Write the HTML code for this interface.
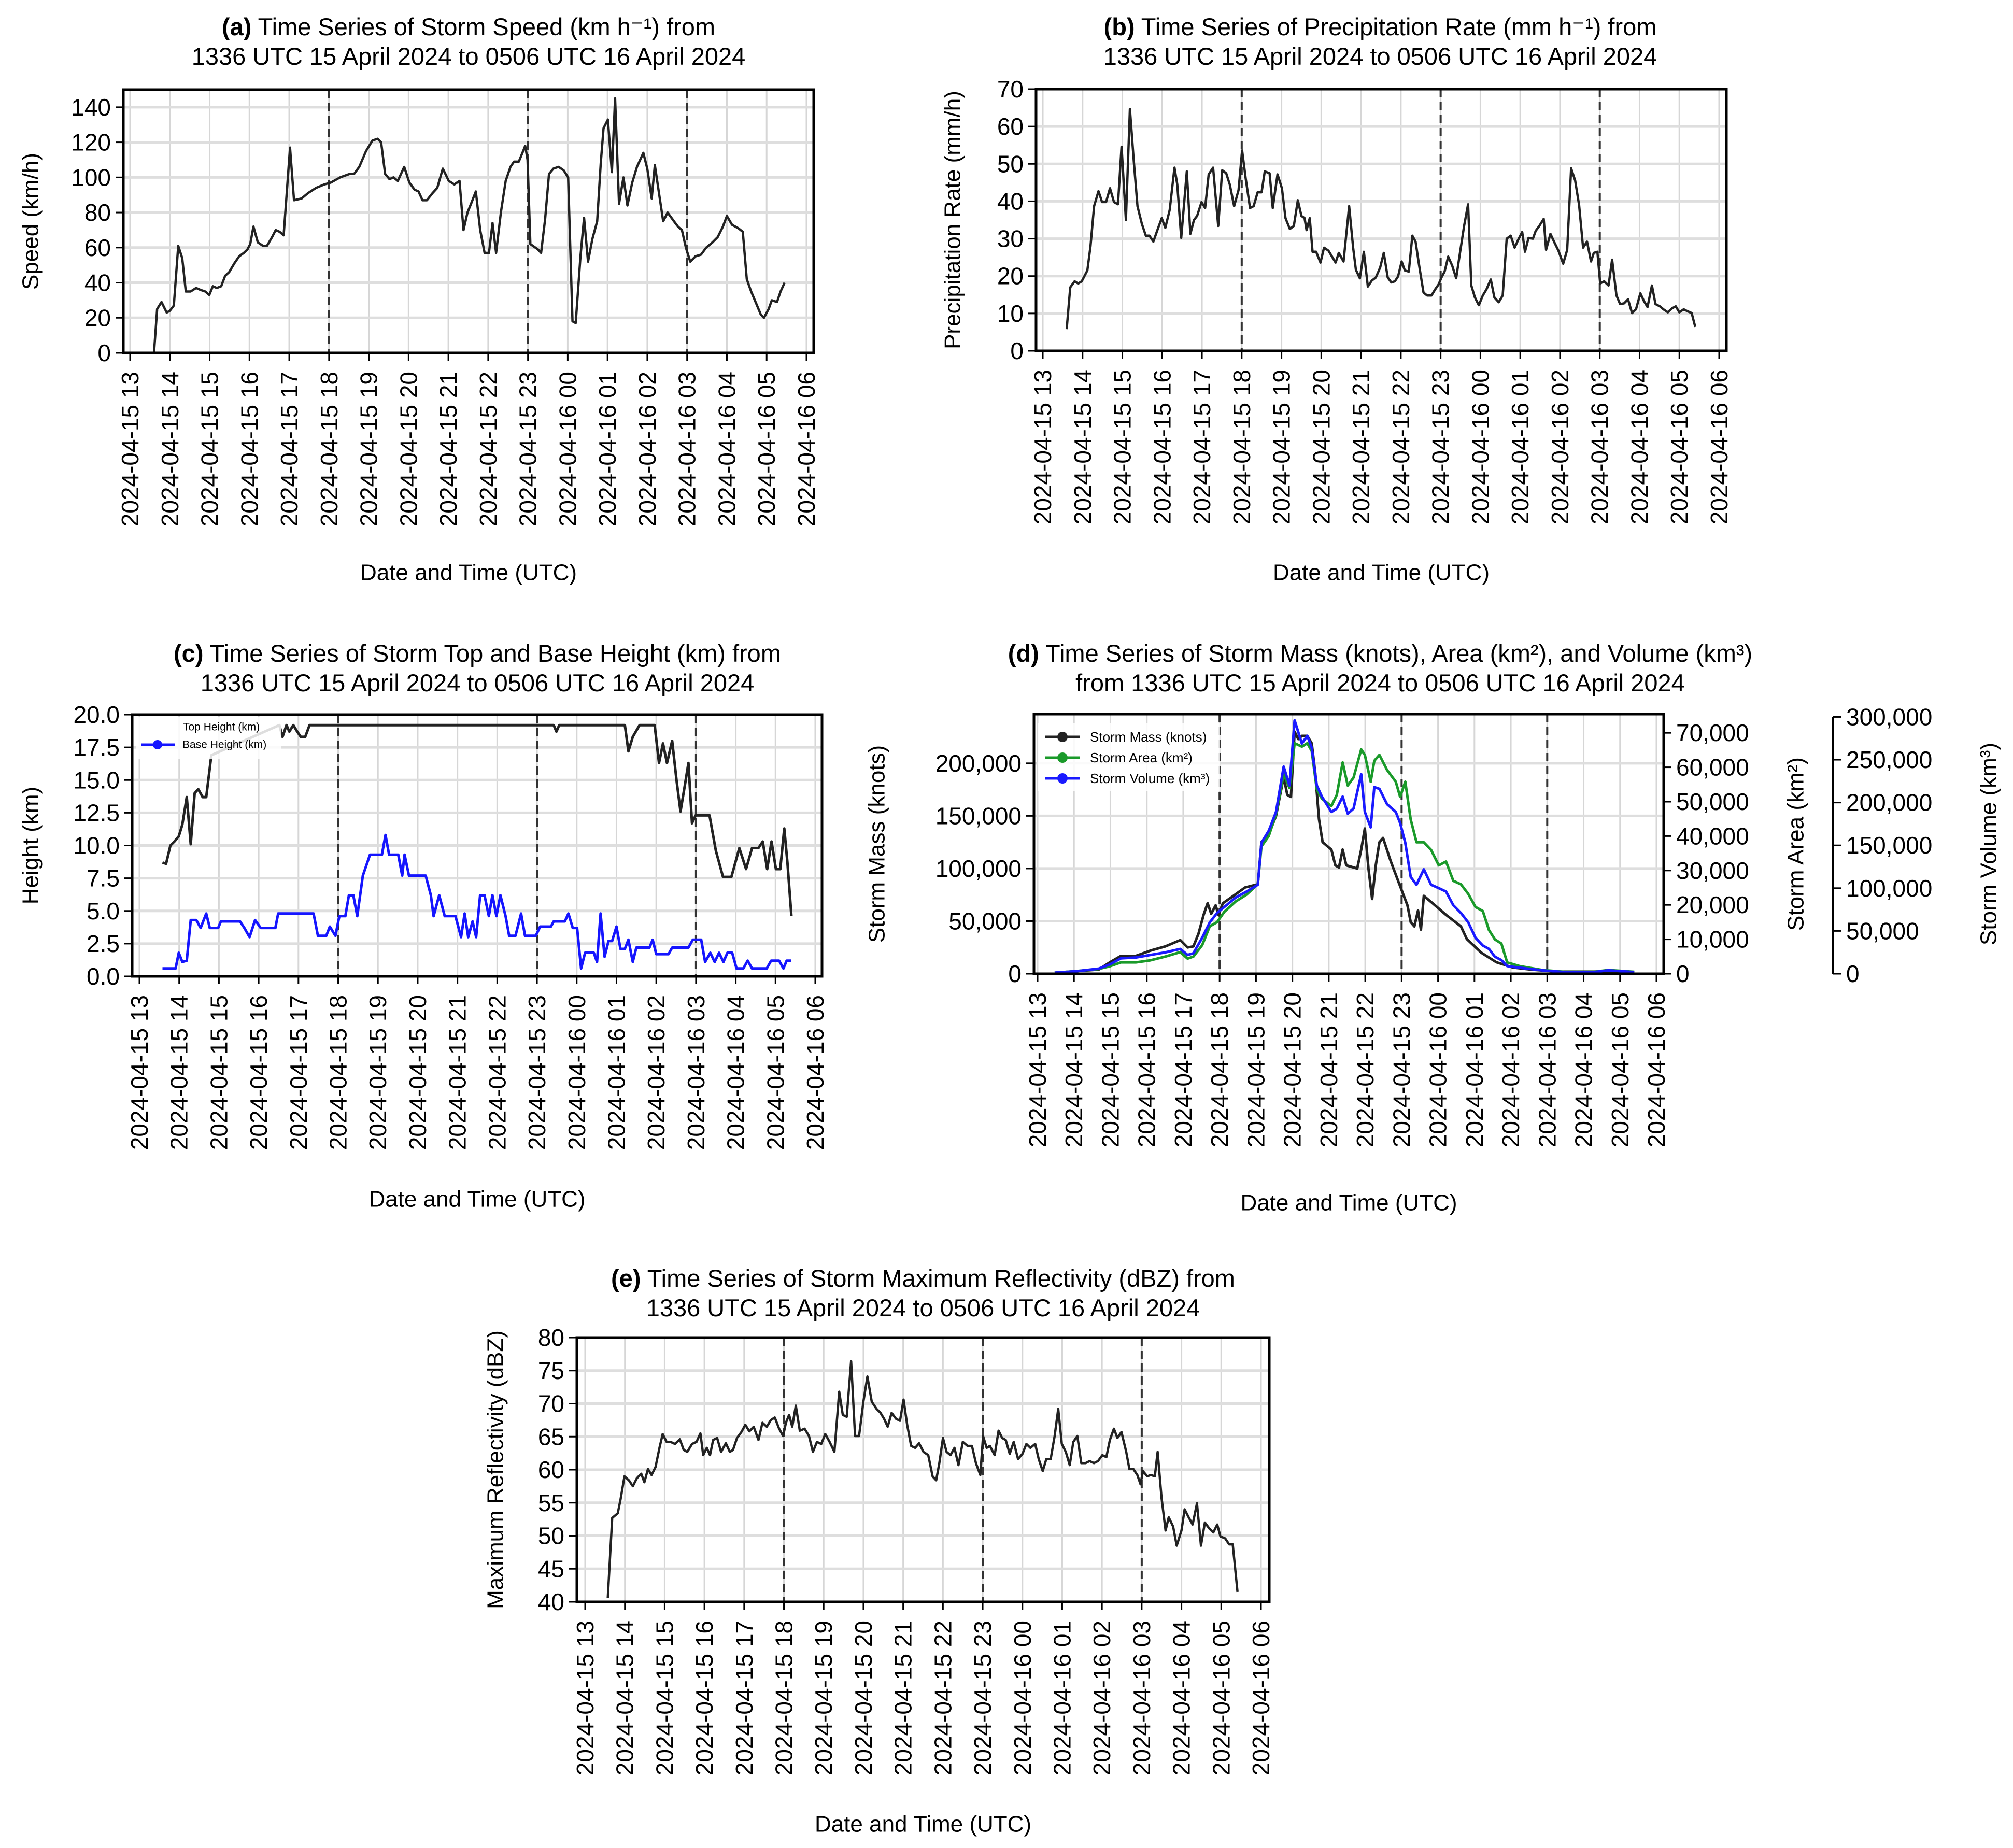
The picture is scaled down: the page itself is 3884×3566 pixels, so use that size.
<!DOCTYPE html>
<html><head><meta charset="utf-8">
<style>
html,body{margin:0;padding:0;background:#fff;}
svg{display:block;font-family:"Liberation Sans",sans-serif;}
</style></head>
<body>
<svg id="fig" width="3884" height="3566" viewBox="0 0 3884 3566" xmlns="http://www.w3.org/2000/svg">
<rect x="0" y="0" width="3884" height="3566" fill="#fff"/>
</svg>
<script>
// ---------- shared tick data ----------
const hourTickLabels = ["2024-04-15 13","2024-04-15 14","2024-04-15 15","2024-04-15 16","2024-04-15 17","2024-04-15 18","2024-04-15 19","2024-04-15 20","2024-04-15 21","2024-04-15 22","2024-04-15 23","2024-04-16 00","2024-04-16 01","2024-04-16 02","2024-04-16 03","2024-04-16 04","2024-04-16 05","2024-04-16 06"];
const dashedHours = [5, 10, 14]; // hours after 13 UTC: 18, 23, 03 UTC

// ---------- (a) speed ----------
const speedTimes = [0.60,0.68,0.79,0.92,1.00,1.10,1.21,1.31,1.40,1.52,1.66,1.76,1.89,1.99,2.08,2.18,2.29,2.39,2.49,2.62,2.74,2.86,2.95,3.02,3.10,3.21,3.34,3.44,3.57,3.66,3.76,3.86,4.02,4.12,4.31,4.47,4.67,4.88,5.04,5.28,5.52,5.63,5.76,5.93,6.09,6.22,6.31,6.41,6.52,6.62,6.73,6.89,7.02,7.15,7.25,7.35,7.46,7.60,7.72,7.86,8.01,8.15,8.28,8.38,8.48,8.57,8.69,8.80,8.91,9.02,9.11,9.20,9.32,9.44,9.56,9.65,9.77,9.88,9.93,9.99,10.06,10.25,10.33,10.43,10.53,10.64,10.77,10.90,11.01,11.12,11.20,11.32,11.41,11.51,11.62,11.74,11.83,11.90,12.01,12.11,12.19,12.29,12.40,12.50,12.62,12.74,12.90,13.00,13.11,13.19,13.30,13.40,13.51,13.67,13.77,13.87,13.97,14.08,14.21,14.35,14.48,14.64,14.77,14.90,15.00,15.13,15.29,15.40,15.50,15.61,15.74,15.85,15.93,16.05,16.13,16.26,16.35,16.45];
const speedValues = [0,25,29,23,24,27,61,54,35,35,37,36,35,33,38,37,38,44,46,51,55,57,59,62,72,63,61,61,66,70,69,67,117,87,88,91,94,96,97,100,102,102,106,115,121,122,120,102,99,100,98,106,97,93,92,87,87,91,94,105,98,96,98,70,80,85,92,70,57,57,74,57,80,98,106,109,109,115,118,110,62,59,57,76,102,105,106,104,100,18,17,55,77,52,65,75,108,128,133,103,145,85,100,84,97,106,114,105,88,107,90,75,80,75,72,70,60,52,55,56,60,63,66,72,78,73,71,69,42,35,28,22,20,25,30,29,35,40];
const speedTicks = [0,20,40,60,80,100,120,140];

// ---------- (b) precipitation ----------
const precipTimes = [0.60,0.69,0.80,0.89,0.98,1.12,1.20,1.29,1.40,1.49,1.59,1.69,1.79,1.89,1.98,2.09,2.19,2.29,2.38,2.49,2.59,2.68,2.78,2.88,2.99,3.08,3.19,3.31,3.38,3.48,3.62,3.71,3.80,3.88,3.99,4.08,4.17,4.28,4.41,4.51,4.61,4.70,4.81,4.92,5.01,5.10,5.21,5.30,5.40,5.50,5.58,5.70,5.78,5.90,6.01,6.10,6.21,6.31,6.41,6.50,6.58,6.63,6.71,6.78,6.87,6.98,7.07,7.18,7.27,7.36,7.44,7.56,7.70,7.80,7.87,7.97,8.07,8.17,8.27,8.37,8.48,8.57,8.67,8.76,8.85,8.93,9.02,9.10,9.20,9.29,9.37,9.46,9.57,9.66,9.77,9.86,9.95,10.02,10.10,10.19,10.29,10.39,10.49,10.59,10.69,10.77,10.86,10.96,11.06,11.15,11.26,11.35,11.46,11.56,11.66,11.76,11.86,11.95,12.05,12.12,12.21,12.32,12.39,12.48,12.59,12.65,12.76,12.85,12.96,13.08,13.18,13.28,13.38,13.48,13.58,13.68,13.78,13.85,13.94,14.01,14.11,14.22,14.31,14.42,14.51,14.61,14.71,14.81,14.91,15.02,15.11,15.20,15.31,15.40,15.51,15.60,15.71,15.82,15.91,16.00,16.11,16.20,16.31,16.40];
const precipValues = [5.8,17,18.6,18,18.6,21.5,28,38.7,42.7,39.8,39.8,43.5,39.8,39.2,54.6,35,64.7,50.4,38.7,34,30.8,30.8,29.2,32.3,35.5,32.9,37.7,49,44.5,30.2,48,31.3,35,36.1,39.8,38.2,47.2,49,33.4,48.3,47.5,44.5,38.7,43,53.6,46.1,38.2,38.7,42.4,42.4,48,47.5,38.2,47.2,43.5,35.5,32.6,33.4,40.3,36.1,35.5,32.3,35.5,26.5,26.5,23.6,27.6,26.8,25.2,23.6,26.2,23.9,38.7,27.6,21.7,19.4,26.5,17.2,18.8,19.6,22.3,26.2,19.6,18.3,18.6,19.9,23.9,21.5,21.2,30.8,29.2,22.8,15.6,14.8,14.8,16.4,17.8,19.6,21.2,25.2,22.8,19.4,26.5,33.4,39.2,17.5,14.3,12.2,14.8,16.4,19.1,14.3,13,14.8,30,30.8,27.6,29.7,31.8,26.5,30.2,30,32.1,33.4,35.3,27,31.3,29.2,26.8,23.3,27,48.8,45.6,39,27.6,29.2,23.9,26.2,26.5,18,18.6,17.5,24.4,14.8,12.5,12.7,13.8,10.1,11.1,15.4,13.3,11.7,17.5,12.5,11.9,11.1,10.3,11.4,11.9,10.3,11.1,10.6,10.1,6.4];
const precipTicks = [0,10,20,30,40,50,60,70];

// ---------- (c) heights ----------
const topTimes = [0.58,0.67,0.78,0.88,0.99,1.08,1.19,1.29,1.39,1.48,1.59,1.68,1.81,3.52,3.60,3.70,3.77,3.87,3.97,4.06,4.17,4.28,6.00,8.00,10.00,10.42,10.49,10.56,12.21,12.30,12.41,12.58,12.96,13.07,13.17,13.27,13.40,13.51,13.61,13.72,13.81,13.90,13.99,14.34,14.50,14.68,14.89,15.09,15.26,15.41,15.57,15.68,15.79,15.90,16.01,16.12,16.22,16.30,16.40];
const topValues = [8.7,8.6,10.0,10.3,10.7,11.6,13.7,10.1,14.0,14.3,13.7,13.7,16.9,19.2,18.3,19.2,18.7,19.2,18.7,18.3,18.3,19.2,19.2,19.2,19.2,19.2,18.7,19.2,19.2,17.2,18.3,19.2,19.2,16.3,17.8,16.3,18.0,15.0,12.6,14.6,16.3,11.7,12.3,12.3,9.6,7.6,7.6,9.8,8.2,9.8,9.8,10.3,8.2,10.3,8.2,8.2,11.3,8.7,4.6];
const baseTimes = [0.58,0.91,0.99,1.08,1.19,1.29,1.43,1.54,1.68,1.77,1.98,2.05,2.53,2.64,2.77,2.91,3.05,3.42,3.49,4.38,4.49,4.70,4.79,4.93,5.03,5.18,5.27,5.38,5.48,5.62,5.80,6.10,6.19,6.28,6.51,6.61,6.67,6.78,7.20,7.33,7.40,7.54,7.68,7.95,8.09,8.18,8.27,8.38,8.47,8.57,8.68,8.79,8.88,8.98,9.08,9.21,9.30,9.46,9.60,9.70,9.97,10.08,10.35,10.42,10.70,10.79,10.90,11.01,11.11,11.21,11.43,11.51,11.60,11.70,11.80,11.89,12.00,12.10,12.21,12.30,12.41,12.50,12.83,12.91,13.00,13.31,13.40,13.81,13.92,14.13,14.23,14.36,14.47,14.58,14.69,14.79,14.91,15.02,15.19,15.30,15.41,15.78,15.89,16.09,16.20,16.28,16.40];
const baseValues = [0.6,0.6,1.8,1.1,1.2,4.3,4.3,3.7,4.8,3.7,3.7,4.2,4.2,3.7,3.0,4.3,3.7,3.7,4.8,4.8,3.1,3.1,3.8,3.1,4.6,4.6,6.2,6.2,4.6,7.7,9.3,9.3,10.8,9.3,9.3,7.7,9.3,7.7,7.7,6.2,4.6,6.2,4.6,4.6,3.0,4.8,3.0,4.2,3.0,6.2,6.2,4.6,6.2,4.6,6.2,4.6,3.1,3.1,4.8,3.1,3.1,3.8,3.8,4.2,4.2,4.8,3.7,3.7,0.6,1.8,1.8,1.1,4.8,1.5,2.7,2.7,3.8,2.1,2.1,2.8,1.1,2.2,2.2,2.8,1.7,1.7,2.2,2.2,2.8,2.8,1.1,1.8,1.1,1.8,1.1,1.8,1.8,0.6,0.6,1.2,0.6,0.6,1.2,1.2,0.6,1.2,1.2];
const heightTicks = [0,2.5,5,7.5,10,12.5,15,17.5,20];

// ---------- (d) mass / area / volume ----------
const massTimes = [0.47,1.08,1.68,1.99,2.29,2.70,3.10,3.51,3.92,4.12,4.28,4.42,4.56,4.67,4.77,4.89,4.97,5.09,5.38,5.70,6.05,6.15,6.35,6.55,6.76,6.86,6.96,7.06,7.16,7.26,7.41,7.53,7.63,7.73,7.83,8.07,8.18,8.28,8.38,8.48,8.68,8.78,8.89,8.99,9.09,9.19,9.29,9.39,9.49,9.70,9.94,10.16,10.25,10.35,10.45,10.53,10.61,10.85,11.22,11.63,11.79,12.19,12.60,13.05,13.55,14.26,15.28,15.68,16.39];
const massValues = [1000,2500,4000,11000,17000,17000,22000,26000,32000,25000,26000,38000,56000,67000,57000,65000,56000,67000,74000,82000,85000,125000,132000,150000,187000,170000,168000,230000,223000,226000,226000,219000,190000,147000,125000,118000,103000,101000,118000,103000,101000,100000,118000,138000,100000,71000,103000,125000,129000,107000,85000,65000,49000,45000,60000,42000,74000,67000,56000,45000,33000,20000,11000,6000,4000,2000,2000,2500,1000];
const areaTimes = [0.47,1.08,1.68,1.99,2.29,2.70,3.10,3.51,3.92,4.12,4.28,4.52,4.73,4.93,5.13,5.44,5.74,6.05,6.15,6.35,6.55,6.76,6.92,7.06,7.26,7.41,7.53,7.67,7.81,8.07,8.22,8.38,8.52,8.68,8.89,8.99,9.15,9.25,9.39,9.60,9.84,9.96,10.10,10.25,10.41,10.61,10.81,11.02,11.22,11.42,11.63,11.83,12.03,12.23,12.40,12.56,12.74,12.90,13.25,13.86,14.47,15.28,15.68,16.39];
const areaValues = [300,800,1400,2200,3300,3300,3900,5000,6300,4400,5000,8300,13800,15000,18000,21000,23000,26000,37000,40000,46400,58000,54000,67000,66000,67000,64700,53600,50900,48700,52000,61400,54700,57000,65200,63600,55800,61900,63600,59200,55800,51400,55800,44800,38200,38200,36000,31500,32600,27000,26000,23200,19400,18200,12700,10000,8800,3300,2200,1100,550,550,1100,550];
const volumeValues = [1300,3000,6000,11000,18000,19000,22000,25000,29000,22000,24000,42000,60000,71000,78000,89000,96000,104000,153000,167000,189000,242000,220000,296000,269000,278000,264000,220000,207000,189000,193000,207000,187000,193000,233000,189000,171000,218000,216000,198000,189000,176000,153000,113000,104000,122000,104000,100000,96000,80000,71000,60000,42000,33000,29000,20000,16000,9000,7000,4000,2000,2000,4000,2000];
const massTicks = [0,50000,100000,150000,200000];
const areaTicks = [0,10000,20000,30000,40000,50000,60000,70000];
const volumeTicks = [0,50000,100000,150000,200000,250000,300000];

// ---------- (e) reflectivity ----------
const reflTimes = [0.57,0.68,0.82,0.89,0.99,1.10,1.20,1.30,1.41,1.49,1.58,1.67,1.77,1.87,1.95,2.05,2.15,2.26,2.38,2.48,2.57,2.69,2.80,2.90,2.97,3.06,3.14,3.22,3.32,3.42,3.54,3.64,3.72,3.82,3.93,4.03,4.13,4.24,4.36,4.46,4.57,4.67,4.77,4.88,4.98,5.05,5.13,5.21,5.30,5.40,5.52,5.63,5.73,5.83,5.94,6.04,6.15,6.27,6.39,6.48,6.58,6.69,6.79,6.89,7.00,7.10,7.21,7.33,7.43,7.52,7.61,7.71,7.82,7.92,8.01,8.10,8.20,8.30,8.40,8.51,8.63,8.74,8.83,8.91,9.00,9.09,9.19,9.29,9.39,9.50,9.62,9.73,9.83,9.94,10.01,10.10,10.18,10.30,10.40,10.49,10.58,10.68,10.78,10.89,11.00,11.10,11.20,11.32,11.41,11.51,11.60,11.71,11.81,11.90,11.99,12.09,12.19,12.28,12.38,12.48,12.59,12.69,12.80,12.90,13.01,13.11,13.20,13.30,13.39,13.49,13.61,13.69,13.79,13.89,13.97,14.03,14.14,14.23,14.33,14.40,14.50,14.60,14.68,14.79,14.88,15.00,15.08,15.18,15.28,15.39,15.49,15.59,15.70,15.80,15.90,15.98,16.10,16.20,16.29,16.41];
const reflValues = [40.6,52.7,53.4,55.5,59.0,58.4,57.5,58.7,59.4,58.1,60.1,59.2,60.4,63.3,65.4,64.2,64.2,63.9,64.6,63.0,62.7,63.9,64.2,65.5,62.2,63.3,62.2,64.5,64.8,62.7,64.0,62.7,63.0,64.8,65.7,66.8,65.8,66.5,64.5,67.1,66.5,67.5,67.9,66.2,65.1,67.1,68.3,66.5,69.7,65.9,66.2,65.1,62.7,64.2,63.9,65.4,64.2,62.7,71.8,68.3,68.0,76.4,65.1,65.1,70.3,74.1,70.3,69.2,68.6,67.7,66.5,68.6,67.7,67.4,70.6,66.8,63.6,63.3,64.0,62.7,62.2,59.0,58.4,61.0,64.8,62.7,62.2,63.3,60.7,64.2,63.6,63.6,61.0,59.2,65.1,63.3,63.6,62.2,65.9,64.8,64.5,62.4,64.2,61.6,62.4,63.9,63.3,63.9,61.6,59.8,61.6,61.6,65.1,69.2,63.9,62.7,60.7,64.2,65.1,61.0,61.0,61.3,61.0,61.3,62.2,61.9,64.5,66.2,64.8,65.7,62.7,60.1,60.1,59.2,57.8,59.8,59.0,59.2,59.0,62.7,55.7,50.8,52.8,51.4,48.5,50.8,54.0,52.8,51.7,54.9,48.5,52.0,51.1,50.5,51.7,49.9,49.6,48.7,48.7,41.5];
const reflTicks = [40,45,50,55,60,65,70,75,80];

// ---------- drawing helpers ----------
const NS = "http://www.w3.org/2000/svg";
const svg = document.getElementById("fig");
function mk(tag, attrs, parent) {
  const e = document.createElementNS(NS, tag);
  for (const k in attrs) e.setAttribute(k, attrs[k]);
  (parent || svg).appendChild(e);
  return e;
}
function fmtComma(v){ return v.toLocaleString("en-US"); }

function makeAxes(p) {
  const g = mk("g", {});
  
  
  const xs = h => p.x13 + h * (p.x06 - p.x13) / 17;
  const ys = v => p.B - (v - p.ymin) / (p.ymax - p.ymin) * (p.B - p.T);
  hourTickLabels.forEach((lab, i) => {
    const gl = mk("line", {x1: xs(i), x2: xs(i), y1: p.T, y2: p.B, stroke: "#d6d6d6", "stroke-width": 3}, g);
    
    
  });
  p.gridY.forEach(v => {
    const gl = mk("line", {x1: p.L, x2: p.R, y1: ys(v), y2: ys(v), stroke: "#dedede", "stroke-width": 5}, g);
    
    
  });
  dashedHours.forEach(h => {
    const d = mk("line", {x1: xs(h), x2: xs(h), y1: p.T, y2: p.B, stroke: "#333", "stroke-width": 4, "stroke-dasharray": "16,9"}, g);
    
    
  });
  hourTickLabels.forEach((lab, i) => {
    const x = xs(i);
    const t = mk("line", {x1: x, x2: x, y1: p.B, y2: p.B + 15, stroke: "#000", "stroke-width": 3}, g);
    
    
    const tx = mk("text", {x: x, y: p.B + 36, "font-size": 46, "text-anchor": "end", "dominant-baseline": "central", transform: `rotate(-90 ${x} ${p.B + 36})`, fill: "#000"}, g);
    tx.textContent = lab;
    
    
  });
  p.yticks.forEach(v => {
    const y = ys(v);
    const t = mk("line", {x1: p.L - 15, x2: p.L, y1: y, y2: y, stroke: "#000", "stroke-width": 3}, g);
    
    
    const tx = mk("text", {x: p.L - 24, y: y, "font-size": 46, "text-anchor": "end", "dominant-baseline": "central", fill: "#000"}, g);
    tx.textContent = p.yfmt(v);
    
    
  });
  const t1 = mk("text", {x: p.tx, y: p.ty, "font-size": 47, "text-anchor": "middle", fill: "#000"}, g);
  t1.innerHTML = `<tspan font-weight="bold">(${p.letter})</tspan> ${p.title1}`;
  
  
  const t2 = mk("text", {x: p.tx, y: p.ty + 57, "font-size": 47, "text-anchor": "middle", fill: "#000"}, g);
  t2.textContent = p.title2;
  
  
  const xl = mk("text", {x: (p.L + p.R) / 2, y: p.xly, "font-size": 44, "text-anchor": "middle", "dominant-baseline": "central", fill: "#000"}, g);
  xl.textContent = "Date and Time (UTC)";
  
  
  const yl = mk("text", {x: p.ylx, y: (p.T + p.B) / 2, "font-size": 44, "text-anchor": "middle", "dominant-baseline": "central", transform: `rotate(-90 ${p.ylx} ${(p.T + p.B) / 2})`, fill: "#000"}, g);
  yl.textContent = p.ylabel;
  
  
  return {g, xs, ys};
}
function drawSeries(ax, times, values, ys, color, width, name) {
  const pts = times.map((t, i) => `${ax.xs(t).toFixed(1)},${ys(values[i]).toFixed(1)}`).join(" ");
  const pl = mk("polyline", {points: pts, fill: "none", stroke: color, "stroke-width": width, "stroke-linejoin": "round"}, ax.g);
  
  
  return pl;
}
function frame(ax, p) {
  const r = mk("rect", {x: p.L, y: p.T, width: p.R - p.L, height: p.B - p.T, fill: "none", stroke: "#000", "stroke-width": 5}, ax.g);
  
  
}
const sub2 = "1336 UTC 15 April 2024 to 0506 UTC 16 April 2024";

// (a)
const pA = {name: "panel-a-speed", letter: "a", L: 238, R: 1570, T: 173, B: 681, x13: 251, x06: 1556, ymin: 0, ymax: 150,
  yticks: speedTicks, gridY: speedTicks, yfmt: v => String(v), tx: 904, ty: 68, title1: "Time Series of Storm Speed (km h⁻¹) from", title2: sub2, xly: 1105, ylx: 59, ylabel: "Speed (km/h)"};
const axA = makeAxes(pA);
drawSeries(axA, speedTimes, speedValues, axA.ys, "#222", 4.5, "speed-line");
frame(axA, pA);

// (b)
const pB = {name: "panel-b-precipitation", letter: "b", L: 1999, R: 3331, T: 172, B: 677, x13: 2012, x06: 3317, ymin: 0, ymax: 70,
  yticks: precipTicks, gridY: precipTicks, yfmt: v => String(v), tx: 2663, ty: 68, title1: "Time Series of Precipitation Rate (mm h⁻¹) from", title2: sub2, xly: 1105, ylx: 1838, ylabel: "Precipitation Rate (mm/h)"};
const axB = makeAxes(pB);
drawSeries(axB, precipTimes, precipValues, axB.ys, "#222", 4.5, "precipitation-line");
frame(axB, pB);

// (c)
const pC = {name: "panel-c-height", letter: "c", L: 255, R: 1586, T: 1379, B: 1884, x13: 269, x06: 1573, ymin: 0, ymax: 20,
  yticks: heightTicks, gridY: heightTicks, yfmt: v => v.toFixed(1), tx: 921, ty: 1277, title1: "Time Series of Storm Top and Base Height (km) from", title2: sub2, xly: 2314, ylx: 59, ylabel: "Height (km)"};
const axC = makeAxes(pC);
drawSeries(axC, topTimes, topValues, axC.ys, "#222", 5, "top-height-line");
drawSeries(axC, baseTimes, baseValues, axC.ys, "#1515ff", 5, "base-height-line");
frame(axC, pC);
{
  const lg = mk("g", {}, axC.g);
  
  
  const bg = mk("rect", {x: 262, y: 1384, width: 280, height: 80, fill: "#fff", "fill-opacity": 0.85}, lg);
  
  
  const e1 = mk("text", {x: 353, y: 1403, "font-size": 21, "dominant-baseline": "central"}, lg);
  e1.textContent = "Top Height (km)";
  
  
  const hl = mk("line", {x1: 272, x2: 337, y1: 1437, y2: 1437, stroke: "#1515ff", "stroke-width": 5}, lg);
  
  
  const hc = mk("circle", {cx: 304, cy: 1437, r: 9, fill: "#1515ff"}, lg);
  
  
  const e2 = mk("text", {x: 352, y: 1437, "font-size": 21, "dominant-baseline": "central"}, lg);
  e2.textContent = "Base Height (km)";
  
  
}

// (d)
const pD = {name: "panel-d-mass-area-volume", letter: "d", L: 1995, R: 3210, T: 1378, B: 1879, x13: 2002, x06: 3196, ymin: 0, ymax: 246700,
  yticks: massTicks, gridY: massTicks, yfmt: fmtComma, tx: 2663, ty: 1277, title1: "Time Series of Storm Mass (knots), Area (km²), and Volume (km³)", title2: "from " + sub2, xly: 2321, ylx: 1692, ylabel: "Storm Mass (knots)"};
const axD = makeAxes(pD);
const ysArea = v => pD.B - v / 75450 * (pD.B - pD.T);
const ysVol = v => pD.B - v / 303300 * (pD.B - pD.T);
drawSeries(axD, massTimes, massValues, axD.ys, "#222", 5, "mass-line");
drawSeries(axD, areaTimes, areaValues, ysArea, "#1a9a2a", 5, "area-line");
drawSeries(axD, areaTimes, volumeValues, ysVol, "#1a1aff", 5, "volume-line");
frame(axD, pD);
areaTicks.forEach(v => {
  const y = ysArea(v);
  const t = mk("line", {x1: pD.R, x2: pD.R + 15, y1: y, y2: y, stroke: "#000", "stroke-width": 3}, axD.g);
  
  
  const tx = mk("text", {x: pD.R + 24, y: y, "font-size": 46, "dominant-baseline": "central"}, axD.g);
  tx.textContent = fmtComma(v);
  
  
});
{
  const sp = mk("line", {x1: 3537, x2: 3537, y1: ysVol(300000), y2: pD.B, stroke: "#000", "stroke-width": 4}, axD.g);
  
  
}
volumeTicks.forEach(v => {
  const y = ysVol(v);
  const t = mk("line", {x1: 3537, x2: 3552, y1: y, y2: y, stroke: "#000", "stroke-width": 3}, axD.g);
  
  
  const tx = mk("text", {x: 3562, y: y, "font-size": 46, "dominant-baseline": "central"}, axD.g);
  tx.textContent = fmtComma(v);
  
  
});
[["Storm Area (km²)", 3465, 'area-axis-title'], ["Storm Volume (km³)", 3837, 'volume-axis-title']].forEach(a => {
  const cy = (pD.T + pD.B) / 2;
  const tx = mk("text", {x: a[1], y: cy, "font-size": 44, "text-anchor": "middle", "dominant-baseline": "central", transform: `rotate(-90 ${a[1]} ${cy})`}, axD.g);
  tx.textContent = a[0];
  
  
});
{
  const lg = mk("g", {}, axD.g);
  
  
  const bg = mk("rect", {x: 2003, y: 1396, width: 350, height: 130, fill: "#fff", "fill-opacity": 0.85}, lg);
  
  
  [["Storm Mass (knots)", "#222", 1422, 'legend-entry-mass'], ["Storm Area (km²)", "#1a9a2a", 1462, 'legend-entry-area'], ["Storm Volume (km³)", "#1a1aff", 1502, 'legend-entry-volume']].forEach(e => {
    const l = mk("line", {x1: 2017, x2: 2084, y1: e[2], y2: e[2], stroke: e[1], "stroke-width": 5}, lg);
    
    
    const c = mk("circle", {cx: 2050, cy: e[2], r: 10, fill: e[1]}, lg);
    
    
    const t = mk("text", {x: 2103, y: e[2], "font-size": 26, "dominant-baseline": "central"}, lg);
    t.textContent = e[0];
    
    
  });
}

// (e)
const pE = {name: "panel-e-reflectivity", letter: "e", L: 1113, R: 2449, T: 2581, B: 3091, x13: 1129, x06: 2433, ymin: 40, ymax: 80,
  yticks: reflTicks, gridY: reflTicks, yfmt: v => String(v), tx: 1781, ty: 2483, title1: "Time Series of Storm Maximum Reflectivity (dBZ) from", title2: sub2, xly: 3520, ylx: 956, ylabel: "Maximum Reflectivity (dBZ)"};
const axE = makeAxes(pE);
drawSeries(axE, reflTimes, reflValues, axE.ys, "#222", 4.5, "reflectivity-line");
frame(axE, pE);
</script>
</body></html>
